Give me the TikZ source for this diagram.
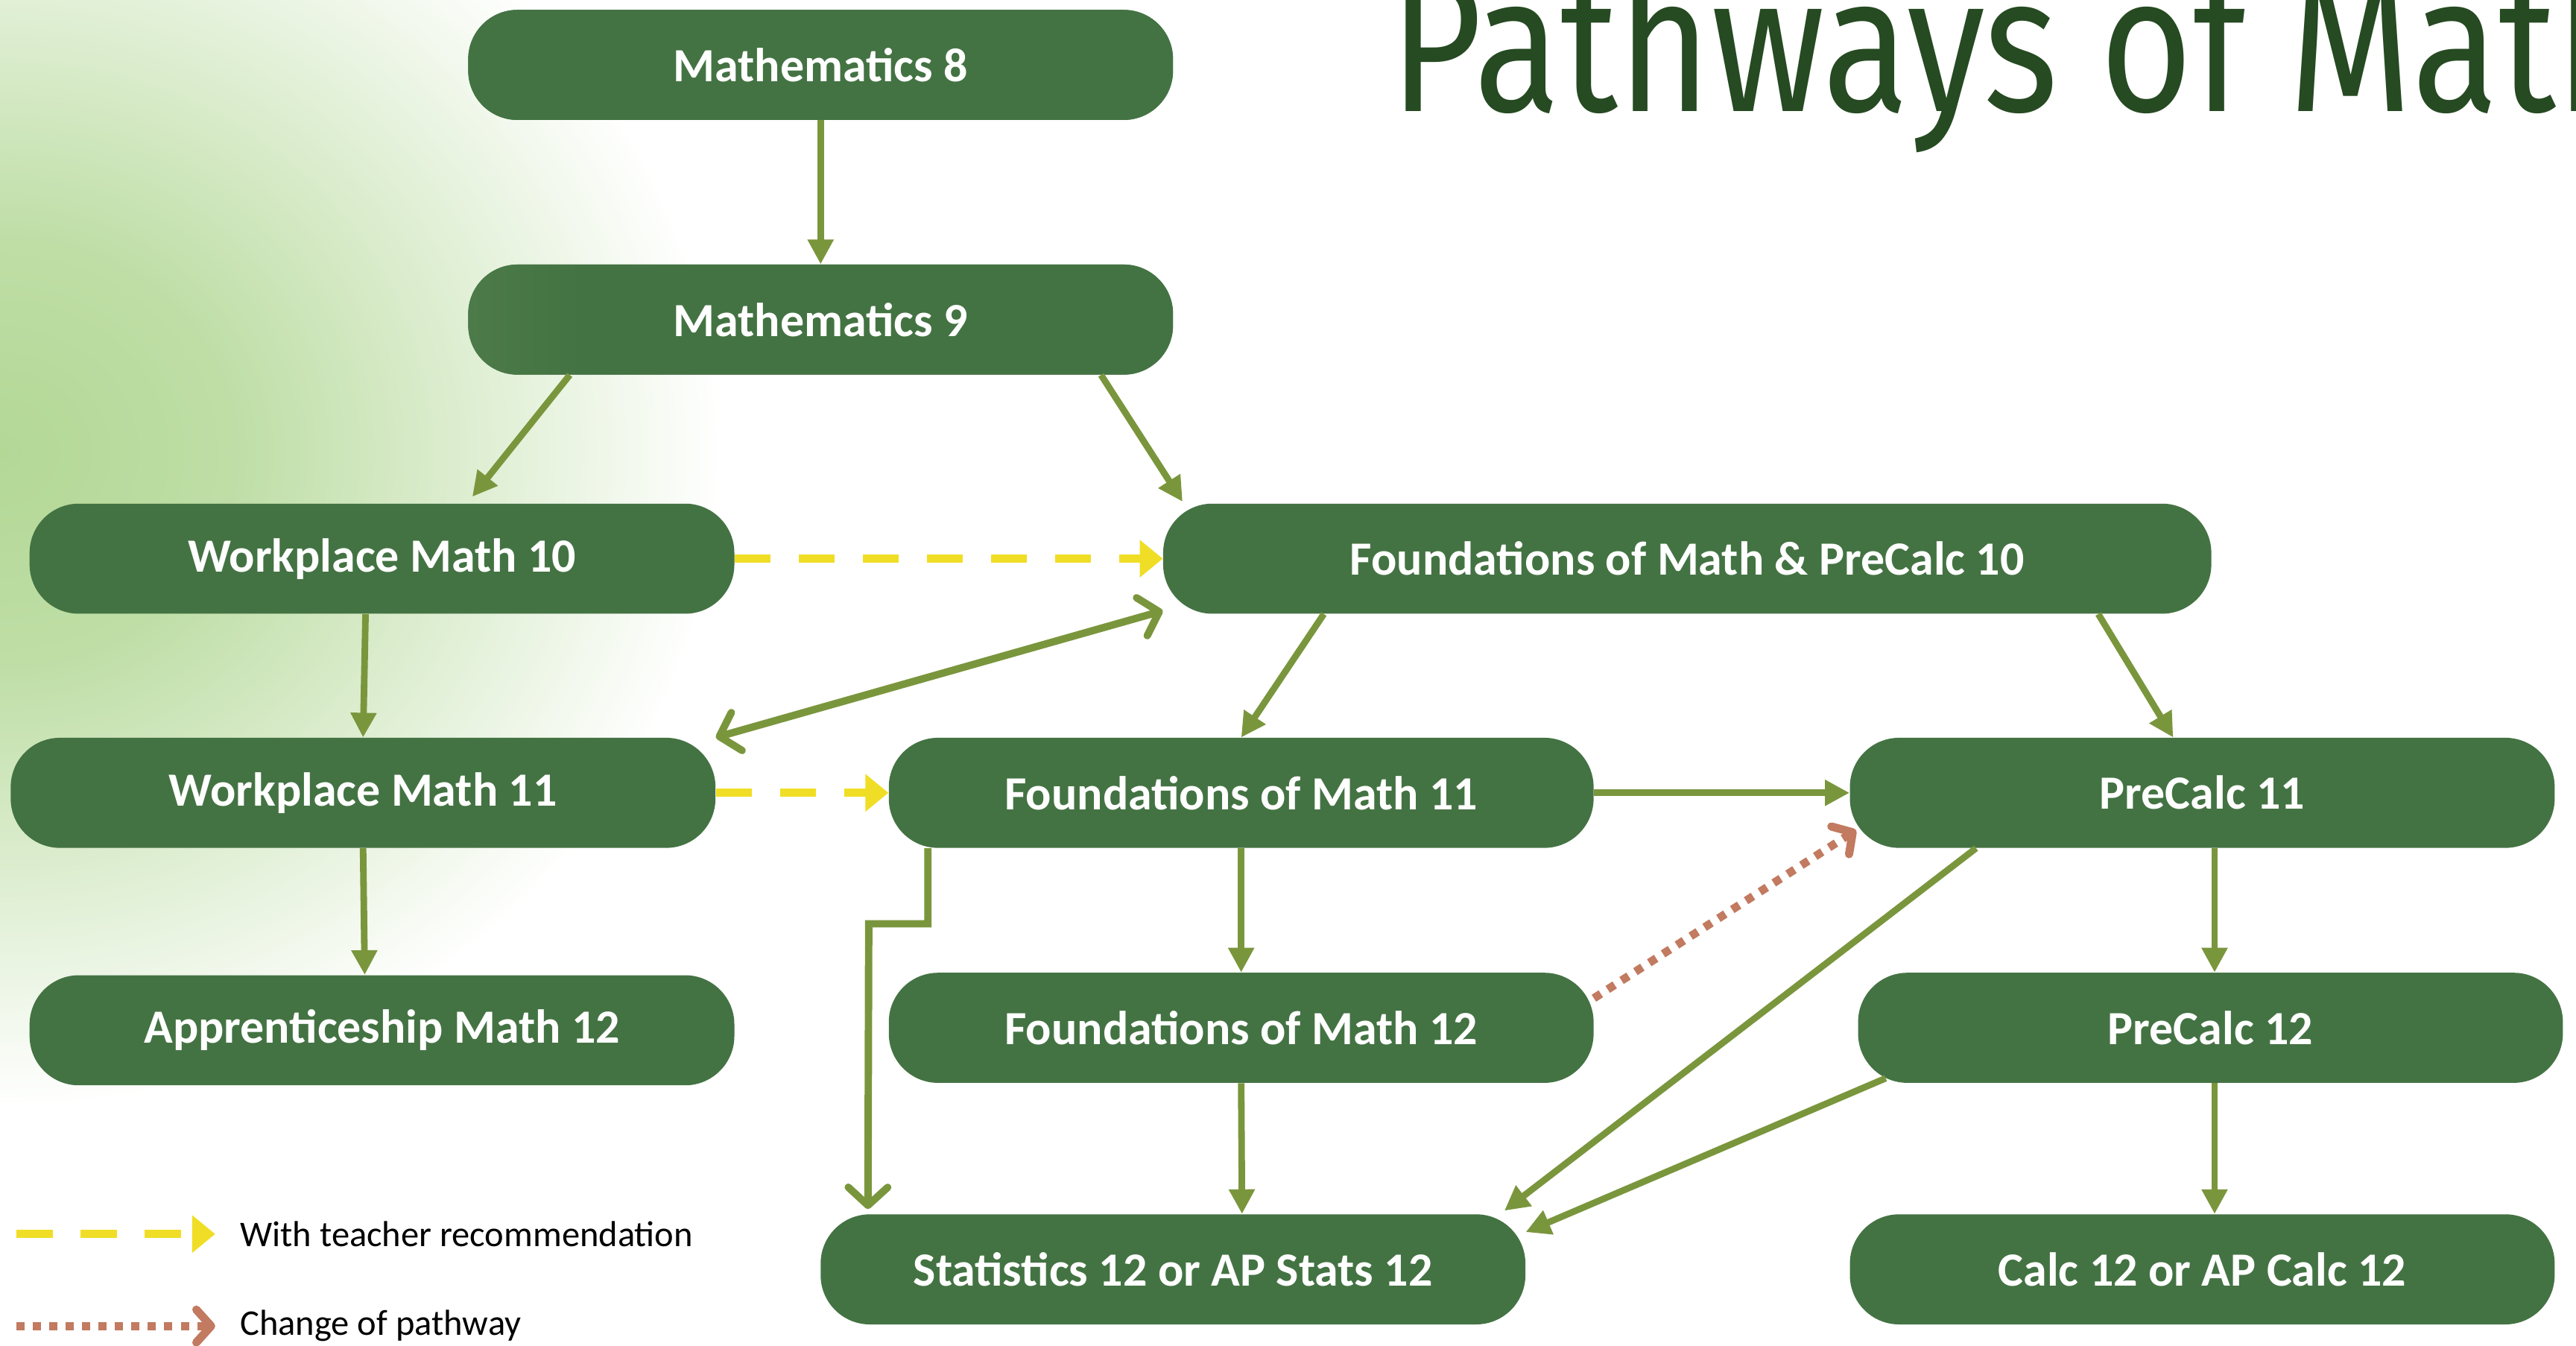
\documentclass[tikz,border=0pt]{standalone}
\usepackage{fontspec}
\setmainfont{Carlito}
\newfontfamily\titlefamily{Fira Sans}
\usetikzlibrary{arrows.meta}
\usetikzlibrary{positioning}
\definecolor{coursegreen}{HTML}{447343}
\definecolor{linkgreen}{HTML}{7A963D}
\definecolor{recyellow}{HTML}{F0DE26}
\definecolor{changebrown}{HTML}{C27A60}
\definecolor{titlegreen}{HTML}{264A22}
\definecolor{glowgreen}{HTML}{B3D896}
\definecolor{fadegreen}{HTML}{66935B}
\pgfdeclareradialshading{glowfade}{\pgfpoint{0bp}{0bp}}{color(0bp)=(glowgreen); color(8bp)=(glowgreen!85!white); color(25bp)=(white); color(50bp)=(white)}
\pgfdeclarehorizontalshading{mnine}{100bp}{color(0bp)=(fadegreen); color(33bp)=(coursegreen); color(100bp)=(coursegreen)}
\pgfdeclarehorizontalshading{meight}{100bp}{color(0bp)=(fadegreen!75!coursegreen); color(25bp)=(coursegreen); color(100bp)=(coursegreen)}
\tikzset{course/.style = {rounded corners=30pt, fill=coursegreen, text=white, minimum width=429pt,
                          minimum height=67pt, inner sep=0pt, font=\bfseries\fontsize{29}{34}\selectfont}}
\tikzset{link/.style = {draw=linkgreen, line width=4pt, -{Triangle[length=15pt, width=15pt]}}}
\tikzset{barb/.style = {draw=linkgreen, line width=4.5pt, -{Straight Barb[round, length=11pt, width=24pt]}}}
\tikzset{recline/.style = {draw=recyellow, line width=5pt, dash pattern=on 22pt off 17pt,
                           -{Triangle[length=14pt, width=22pt]}}}
\tikzset{changeline/.style = {draw=changebrown, line width=5pt, dash pattern=on 5pt off 5pt,
                              -{Straight Barb[round, length=9pt, width=20pt]}}}
\tikzset{legend/.style = {anchor=west, inner sep=0pt, font=\fontsize{22}{26}\selectfont}}
\begin{document}
\begin{tikzpicture}[x=1pt, y=-1pt]
      \useasboundingbox (0,0) rectangle (1568,819);
      \clip (0,0) rectangle (1568,819);
      \fill [white] (0,0) rectangle (1568,819);
      \shade [shading=glowfade] (0,275) ellipse (440 and 400);
      \node [anchor=base west, inner sep=0pt, text=titlegreen, font=\titlefamily\fontsize{118}{120}\selectfont] (title) at (846,68) {\scalebox{0.82}[1]{Pathways of Math}};
      \node [course, shade, shading=meight] (m8) at (499.5,39.5) {Mathematics 8};
      \node [course, shade, shading=mnine] (m9) at (499.5,194.5) {Mathematics 9};
      \node [course] (wm10) at (232.5,340) {Workplace Math 10};
      \node [course, minimum width=638pt] (fp10) at (1027,340) {Foundations of Math \& PreCalc 10};
      \node [course] (wm11) at (221,482.5) {Workplace Math 11};
      \node [course] (fm11) at (755.5,482.5) {Foundations of Math 11};
      \node [course] (pc11) at (1340.5,482.5) {PreCalc 11};
      \node [course] (am12) at (232.5,627) {Apprenticeship Math 12};
      \node [course] (fm12) at (755.5,625.5) {Foundations of Math 12};
      \node [course] (pc12) at (1345.5,625.5) {PreCalc 12};
      \node [course] (st12) at (714,772.5) {Statistics 12 or AP Stats 12};
      \node [course] (ca12) at (1340.5,772.5) {Calc 12 or AP Calc 12};
      \draw [link] (m8) -- (m9);
      \draw [link] ([xshift=62pt]m9.south west) -- ([xshift=55pt, yshift=4pt]wm10.north);
      \draw [link] ([xshift=-44pt]m9.south east) -- ([xshift=12pt, yshift=1pt]fp10.north west);
      \draw [recline] (wm10.east) -- (fp10.west);
      \draw [barb, {Straight Barb[round, length=11pt, width=24pt]}-{Straight Barb[round, length=11pt, width=24pt]}] (wm11.north east) -- ([yshift=2pt]fp10.south west);
      \draw [link] ([xshift=-10pt]wm10.south) -- (wm11.north);
      \draw [link] ([xshift=98pt]fp10.south west) -- (fm11.north);
      \draw [link] ([xshift=-69pt]fp10.south east) -- ([xshift=197pt]pc11.north west);
      \draw [recline] (wm11.east) -- (fm11.west);
      \draw [link] (fm11.east) -- (pc11.west);
      \draw [link] (wm11.south) -- ([xshift=-10.5pt]am12.north);
      \draw [link] (fm11.south) -- (fm12.north);
      \draw [barb, line join=miter] ([xshift=24pt]fm11.south west) -- ++(0,46) -- ++(-36,0) -- ([xshift=29pt, yshift=3pt]st12.north west);
      \draw [changeline] ([yshift=18pt]fm12.east) -- ([xshift=4pt, yshift=11pt]pc11.south west);
      \draw [link] ([xshift=7.5pt]pc11.south) -- ([xshift=2.5pt]pc12.north);
      \draw [link] ([xshift=77pt]pc11.south west) -- ([xshift=-13pt, yshift=2pt]st12.north east);
      \draw [link] ([xshift=17pt, yshift=3pt]pc12.south west) -- ([yshift=-11pt]st12.north east);
      \draw [link] (fm12.south) -- ([xshift=42pt]st12.north);
      \draw [link] ([xshift=2.5pt]pc12.south) -- ([xshift=7.5pt]ca12.north);
      \coordinate (reca) at (10,751);
      \coordinate (recb) at (131,751);
      \coordinate (chga) at (10,807);
      \coordinate (chgb) at (131,807);
      \draw [recline] (reca) -- (recb);
      \draw [changeline] (chga) -- (chgb);
      \node [legend] (reclabel) at (146,751) {With teacher recommendation};
      \node [legend] (chglabel) at (146,807) {Change of pathway};
    \end{tikzpicture}
\end{document}
